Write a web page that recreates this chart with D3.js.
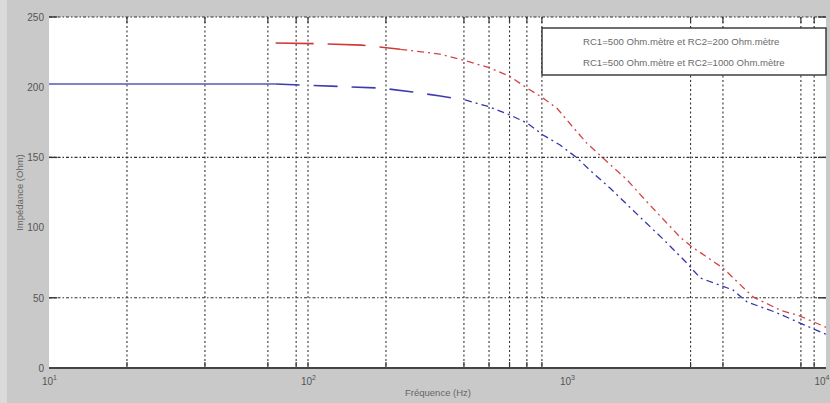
<!DOCTYPE html>
<html>
<head>
<meta charset="utf-8">
<script src="https://cdn.jsdelivr.net/npm/d3@7"></script>
<style>
  html, body { margin: 0; padding: 0; background: #c9c9c9; }
  svg { display: block; }
  text { font-family: "Liberation Sans", Arial, sans-serif; }
</style>
</head>
<body>
<svg id="chart" width="830" height="403"></svg>
<script>
// Impedance vs frequency for two resistivity configurations
const freqRed = [75, 108, 161, 227, 323, 404, 504, 602, 701, 808, 915, 1054, 1194, 1377, 1706, 2090, 2730, 3040, 4000, 5230, 6640, 7940, 10000];
const impRed  = [231.5, 231, 230, 227, 223.6, 219, 213.7, 207.7, 199.4, 192.3, 185, 171.6, 160, 149.6, 134, 116, 93.3, 86.2, 71.2, 50.6, 41.3, 37, 29];

const freqBlue = [10, 75, 93, 190, 254, 324, 404, 504, 602, 701, 808, 940, 1094, 1260, 1465, 1914, 2390, 2900, 3270, 4370, 4960, 6350, 7940, 10000];
const impBlue  = [202.3, 202.3, 201.6, 199.4, 196.6, 193.7, 190.9, 185.9, 180.2, 174.5, 166, 158.8, 149.6, 138.9, 128.2, 107.5, 90.5, 74.8, 64.1, 55.6, 47, 39.9, 32, 24];

const legendLabels = [
  "RC1=500 Ohm.mètre et RC2=200 Ohm.mètre",
  "RC1=500 Ohm.mètre et RC2=1000 Ohm.mètre"
];

const xMajorTicks = [10, 100, 1000, 10000];
const xGridValues = [20, 40, 70, 90, 100, 200, 400, 500, 600, 700, 800, 3000, 4000, 8000, 9000];
const yTicks = [0, 50, 100, 150, 200, 250];
const yGridValues = [50, 150, 250];

const svg = d3.select("#chart");

const x = d3.scaleLog().domain([10, 10000]).range([49, 826]);
const y = d3.scaleLinear().domain([0, 250]).range([368, 17]);

// light outer strip on the left edge
svg.append("rect").attr("x", 0).attr("y", 0).attr("width", 7).attr("height", 403).attr("fill", "#dadada");

// plot area
svg.append("rect")
  .attr("x", x.range()[0]).attr("y", y.range()[1])
  .attr("width", x.range()[1] - x.range()[0])
  .attr("height", y.range()[0] - y.range()[1])
  .attr("fill", "#ffffff");

const grid = svg.append("g");

// vertical grid lines with end ticks
xGridValues.forEach(v => {
  grid.append("line")
    .attr("x1", x(v)).attr("x2", x(v))
    .attr("y1", y(250)).attr("y2", y(0))
    .attr("stroke", "#333").attr("stroke-width", 1.1)
    .attr("stroke-dasharray", "2,2.5");
  grid.append("line")
    .attr("x1", x(v)).attr("x2", x(v))
    .attr("y1", y(0)).attr("y2", y(0) - 6)
    .attr("stroke", "#333").attr("stroke-width", 1.2);
  grid.append("line")
    .attr("x1", x(v)).attr("x2", x(v))
    .attr("y1", y(250)).attr("y2", y(250) + 6)
    .attr("stroke", "#333").attr("stroke-width", 1.2);
});

// horizontal grid lines with end ticks
yGridValues.forEach(v => {
  grid.append("line")
    .attr("x1", x(10)).attr("x2", x(10000))
    .attr("y1", y(v)).attr("y2", y(v))
    .attr("stroke", "#333").attr("stroke-width", 1.1)
    .attr("stroke-dasharray", "3,2,1.5,2");
  grid.append("line")
    .attr("x1", x(10)).attr("x2", x(10) + 8)
    .attr("y1", y(v)).attr("y2", y(v))
    .attr("stroke", "#333").attr("stroke-width", 1.4);
  grid.append("line")
    .attr("x1", x(10000) - 8).attr("x2", x(10000))
    .attr("y1", y(v)).attr("y2", y(v))
    .attr("stroke", "#333").attr("stroke-width", 1.4);
});

// bottom axis line
svg.append("line")
  .attr("x1", x(10)).attr("x2", x(10000))
  .attr("y1", y(0)).attr("y2", y(0))
  .attr("stroke", "#444").attr("stroke-width", 2);

// x axis labels as powers of ten
const xAxis = d3.axisBottom(x).tickValues(xMajorTicks).tickSize(0).tickPadding(7).tickFormat(() => "");
const gx = svg.append("g").attr("transform", `translate(0,${y(0)})`).call(xAxis);
gx.select(".domain").remove();
gx.selectAll(".tick text").each(function(d) {
  const t = d3.select(this)
    .attr("font-size", 10).attr("fill", "#555").attr("dy", "0.95em");
  // keep the rightmost label inside the frame
  if (d === 10000) t.attr("text-anchor", "end").attr("x", 3);
  t.append("tspan").text("10");
  t.append("tspan").attr("font-size", 7).attr("dy", "-0.7em").text(Math.round(Math.log10(d)));
});

// y axis labels
const yAxis = d3.axisLeft(y).tickValues(yTicks).tickSize(0).tickPadding(5);
const gy = svg.append("g").attr("transform", `translate(${x(10)},0)`).call(yAxis);
gy.select(".domain").remove();
gy.selectAll(".tick text").attr("font-size", 10).attr("fill", "#555").attr("font-family", "Liberation Sans, Arial, sans-serif");

// curves
const line = d3.line().x(d => x(d[0])).y(d => y(d[1]));
const redPts = freqRed.map((f, i) => [f, impRed[i]]);
const bluePts = freqBlue.map((f, i) => [f, impBlue[i]]);

function segment(pts, lo, hi) {
  return pts.filter(p => p[0] >= lo && p[0] <= hi);
}

const curves = svg.append("g").attr("fill", "none").attr("stroke-width", 1.6);

// blue: solid at low frequency, long dashes, then dash-dot
curves.append("path").attr("d", line(segment(bluePts, 10, 75)))
  .attr("stroke", "#5858b6");
curves.append("path").attr("d", line(segment(bluePts, 75, 404)))
  .attr("stroke", "#3c3cb0").attr("stroke-dasharray", "24,14");
curves.append("path").attr("d", line(segment(bluePts, 404, 10000)))
  .attr("stroke", "#3434b0").attr("stroke-width", 1.3).attr("stroke-dasharray", "7,4,2,4");

// red: long dashes then dash-dot
curves.append("path").attr("d", line(segment(redPts, 75, 227)))
  .attr("stroke", "#d03a3a").attr("stroke-dasharray", "38,14");
curves.append("path").attr("d", line(segment(redPts, 227, 10000)))
  .attr("stroke", "#d44444").attr("stroke-width", 1.3).attr("stroke-dasharray", "7,4,2,4");

// legend box
const lg = svg.append("g");
lg.append("rect")
  .attr("x", 542).attr("y", 28).attr("width", 284).attr("height", 47)
  .attr("fill", "#ffffff").attr("stroke", "#222").attr("stroke-width", 1.3);
legendLabels.forEach((s, i) => {
  lg.append("text")
    .attr("x", 583).attr("y", 45 + i * 21)
    .attr("font-size", 9.6).attr("fill", "#6a6a6a")
    .text(s);
});

// axis titles
svg.append("text")
  .attr("x", 438).attr("y", 396)
  .attr("text-anchor", "middle").attr("font-size", 9.5).attr("fill", "#666")
  .text("Fréquence (Hz)");
svg.append("text")
  .attr("transform", `translate(23,${(y(0) + y(250)) / 2}) rotate(-90)`)
  .attr("text-anchor", "middle").attr("font-size", 9.5).attr("fill", "#666")
  .text("Impédance (Ohm)");
</script>
</body>
</html>
